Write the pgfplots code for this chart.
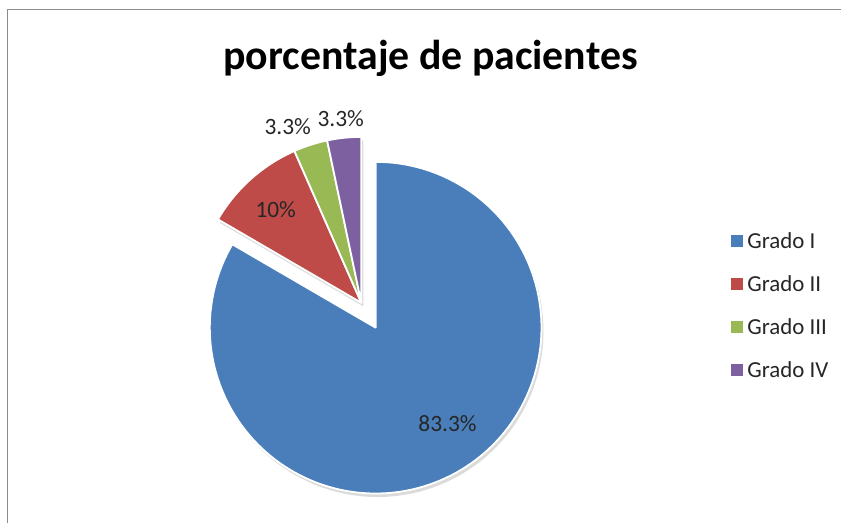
\documentclass[border=0pt]{standalone}
\usepackage{pgfplots}
\pgfplotsset{compat=1.18}
\usepackage{fontspec}
\setmainfont{Carlito}
\definecolor{gI}{HTML}{4A7EBB}
\definecolor{gII}{HTML}{BE4B48}
\definecolor{gIII}{HTML}{98B954}
\definecolor{gIV}{HTML}{7D60A0}
\begin{document}
\begin{tikzpicture}
% data (percent of patients)
\def\vA{83.3}\def\vB{10}\def\vC{3.3}\def\vD{3.3}
\pgfmathsetmacro\tot{\vA+\vB+\vC+\vD}
\pgfmathsetmacro\aZ{90}
\pgfmathsetmacro\aA{\aZ-360*(\vA/\tot)}
\pgfmathsetmacro\aB{\aA-360*(\vB/\tot)}
\pgfmathsetmacro\aC{\aB-360*(\vC/\tot)}
\pgfmathsetmacro\aD{\aC-360*(\vD/\tot)}
% geometry (pixel units)
\def\cx{376}\def\cy{195}\def\r{166}
\pgfmathsetmacro\ex{\cx+28.8*cos((\aA+\aD)/2)}
\pgfmathsetmacro\ey{\cy+28.8*sin((\aA+\aD)/2)}
\pgfmathsetmacro\sx{\cx+2}
\pgfmathsetmacro\sy{\cy-3.5}
\pgfmathsetmacro\tx{\ex+2}
\pgfmathsetmacro\ty{\ey-3.5}
\begin{axis}[
  at={(0,0)}, anchor=south west,
  width=842bp, height=523bp, scale only axis,
  xmin=0, xmax=842, ymin=0, ymax=523,
  hide axis, clip=false,
  legend style={at={(axis cs:731,292)}, anchor=north west, draw=none, fill=none,
    font=\fontsize{23}{27}\selectfont, row sep=21.5bp, text=black!85,
    inner sep=0pt, cells={anchor=west}},
  legend image code/.code={\fill[#1, draw=none] (0bp,-5.5bp) rectangle (12bp,6.5bp);\path (14bp,0bp);},
]
\path (axis cs:0,0) rectangle (axis cs:842,523);
% soft shadows
\addplot[forget plot, fill=black!14, draw=none, domain=\aA:\aZ, samples=150, variable=\t]
  ({\sx+\r*cos(\t)},{\sy+\r*sin(\t)}) -- (axis cs:\sx,\sy) -- cycle;
\addplot[forget plot, fill=black!14, draw=none, domain=\aD:\aA, samples=60, variable=\t]
  ({\tx+\r*cos(\t)},{\ty+\r*sin(\t)}) -- (axis cs:\tx,\ty) -- cycle;
% slices
\addplot[fill=gI, draw=white, line width=1.8bp, line join=round, domain=\aA:\aZ, samples=150, variable=\t]
  ({\cx+\r*cos(\t)},{\cy+\r*sin(\t)}) -- (axis cs:\cx,\cy) -- cycle;
\addlegendentry{Grado I}
\addplot[fill=gII, draw=white, line width=1.8bp, line join=round, domain=\aB:\aA, samples=40, variable=\t]
  ({\ex+\r*cos(\t)},{\ey+\r*sin(\t)}) -- (axis cs:\ex,\ey) -- cycle;
\addlegendentry{Grado II}
\addplot[fill=gIII, draw=white, line width=1.8bp, line join=round, domain=\aC:\aB, samples=20, variable=\t]
  ({\ex+\r*cos(\t)},{\ey+\r*sin(\t)}) -- (axis cs:\ex,\ey) -- cycle;
\addlegendentry{Grado III}
\addplot[fill=gIV, draw=white, line width=1.8bp, line join=round, domain=\aD:\aC, samples=20, variable=\t]
  ({\ex+\r*cos(\t)},{\ey+\r*sin(\t)}) -- (axis cs:\ex,\ey) -- cycle;
\addlegendentry{Grado IV}
% labels
\node[font=\fontsize{23.5}{27}\selectfont, text=black!85] at (axis cs:448,99) {83.3\%};
\node[font=\fontsize{23.5}{27}\selectfont, text=black!85] at (axis cs:276,313) {10\%};
\node[font=\fontsize{23.5}{27}\selectfont, text=black!85] at (axis cs:288,396) {3.3\%};
\node[font=\fontsize{23.5}{27}\selectfont, text=black!85] at (axis cs:341,404) {3.3\%};
% title
\node[font=\bfseries\fontsize{42}{48}\selectfont] at (axis cs:431,465) {porcentaje de pacientes};
% frame
\draw[black!45, line width=1.6bp] (axis cs:7.5,0) -- (axis cs:7.5,513.5) -- (axis cs:842,513.5);
\end{axis}
\end{tikzpicture}
\end{document}
